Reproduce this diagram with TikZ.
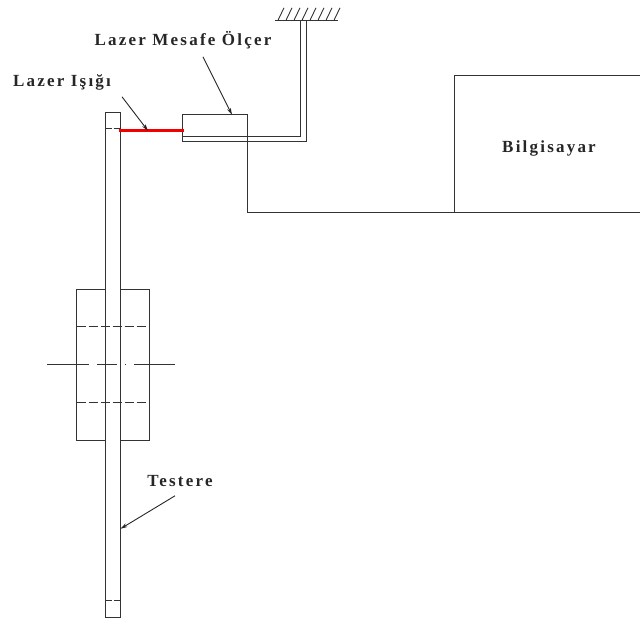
\documentclass[tikz,border=0pt]{standalone}
\usepackage{fontspec}
\setmainfont[LetterSpace=13]{Liberation Serif}
\usepackage{tikz}
\usetikzlibrary{positioning,arrows.meta}

\begin{document}
\begin{tikzpicture}[
  x=1pt, y=1pt,
  line/.style={draw=black!80, line width=1.3pt},
  part/.style={line, fill=white, inner sep=0pt, outer sep=0pt},
  label/.style={font=\fontsize{17}{19}\selectfont\bfseries, text=black!85, inner sep=0pt},
  hidden/.style={line, dash pattern=on 9pt off 3pt},
  leader/.style={draw=black!85, line width=0.9pt, -{Stealth[length=7pt,width=4pt]}}
]
\useasboundingbox (0,0.8) rectangle (640,619.8);

\node[part, minimum width=73pt, minimum height=151pt] (hub) at (113,255) {};
\node[part, minimum width=15pt, minimum height=505pt] (saw) at (113,255) {};
\node[part, minimum width=65pt, minimum height=27pt] (sensor) at (215,492) {};
\node[part, minimum width=190pt, minimum height=137pt] (pc) at (549.5,476) {};
\node[label] (pclabel) at (549,471) {Bilgisayar};

\node[label] (sensorlabel) at (183,580) {Lazer Mesafe Ölçer};
\node[label] (lightlabel) at (62,537) {Lazer Işığı};
\node[label] (sawlabel) at (180,139) {Testere};

\coordinate (mountin) at (300.5,599.5);
\coordinate (mountout) at (306.5,599.5);
\coordinate (sensorin) at (182.5,483.5);
\coordinate (sensorlead) at (203,563);
\coordinate (sensorhit) at (232,505);
\coordinate (lightlead) at (122,523);
\coordinate (lightstart) at (118.5,489);
\coordinate (lighthit) at (148,489);
\coordinate (sawlead) at (175,124);
\coordinate (sawhit) at (120.5,91);

% dashed lines through the saw
\draw[hidden] (hub.west |- 0,293.5) -- (hub.east |- 0,293.5);
\draw[hidden] (hub.west |- 0,217.5) -- (hub.east |- 0,217.5);
\draw[line] (47,255.5) -- (89,255.5);
\draw[line] (97,255.5) -- (117,255.5);
\draw[line] (125,255.5) -- (126,255.5);
\draw[line] (134,255.5) -- (175,255.5);
\draw[line, dash pattern=on 6pt off 2pt] (saw.west |- 0,491.5) -- (saw.east |- 0,491.5);
\draw[line, dash pattern=on 6pt off 2pt] (saw.west |- 0,19.5) -- (saw.east |- 0,19.5);

% cables
\draw[line] (sensorin) -| (mountin);
\draw[line] (sensor.south east) -| (mountout);
\draw[line] (sensor.north east) |- (pc.south west);

% wall
\draw[line] (275,599.5) -- (338,599.5);
\foreach \hx in {278,286,...,334}
  \draw[line, line width=0.9pt] (\hx,599.5) -- (\hx+6,612);

\draw[draw=red!95!black, line width=3pt] (lightstart) -- ([xshift=1pt]sensor.west |- lightstart);

\draw[leader] (sensorlead) -- (sensorhit);
\draw[leader] (lightlead) -- (lighthit);
\draw[leader] (sawlead) -- (sawhit);
\end{tikzpicture}
\end{document}
